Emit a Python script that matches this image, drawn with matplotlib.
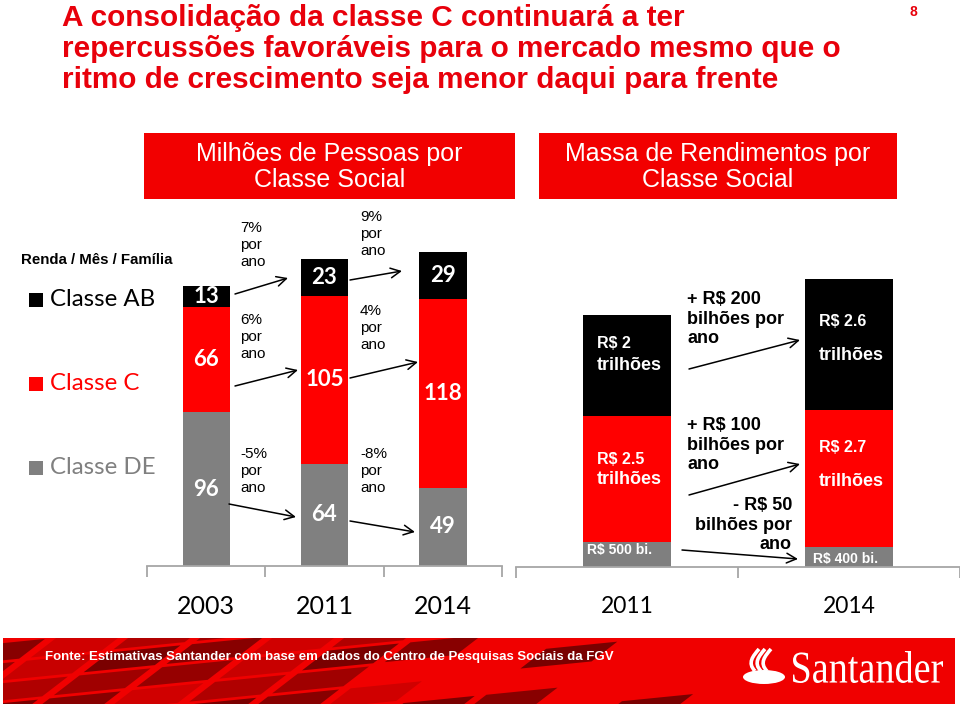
import matplotlib
matplotlib.use("Agg")
import matplotlib.pyplot as plt
import matplotlib.transforms as mtransforms
from matplotlib.patches import Rectangle, Polygon, PathPatch, Ellipse, FancyArrowPatch
from matplotlib.path import Path
from matplotlib.textpath import TextPath
from matplotlib.font_manager import FontProperties

# ---------------- data ----------------
people_years = ['2003', '2011', '2014']
people_de = [96, 64, 49]
people_c = [66, 105, 118]
people_ab = [13, 23, 29]
growth_ab = ['7%', '9%']
growth_c = ['6%', '4%']
growth_de = ['-5%', '-8%']

income_years = ['2011', '2014']
income_de = [0.5, 0.4]      # R$ trilhões
income_c = [2.5, 2.7]
income_ab = [2.0, 2.6]
income_de_labels = ['R$ 500 bi.', 'R$ 400 bi.']
income_c_labels = ['R$ 2.5', 'R$ 2.7']
income_ab_labels = ['R$ 2', 'R$ 2.6']
income_change = ['+ R$ 200', '+ R$ 100', '- R$ 50']

title_lines = ['A consolidação da classe C continuará a ter',
               'repercussões favoráveis para o mercado mesmo que o',
               'ritmo de crescimento seja menor daqui para frente']

RED = '#FF0000'
TRED = '#E8000B'
GREY = '#808080'
SANS = ['Liberation Sans', 'DejaVu Sans']
CAL = ['Lato', 'DejaVu Sans']

W, H = 960, 705
fig = plt.figure(figsize=(W / 100, H / 100), dpi=100)
fig.patch.set_facecolor('white')


def ax_rect(x0, y_top, x1, y_bot):
    return [x0 / W, 1 - y_bot / H, (x1 - x0) / W, (y_bot - y_top) / H]


# ---------------- left panel: people ----------------
axL = fig.add_axes(ax_rect(147, 200, 502, 566))
xL = list(range(len(people_years)))
bw = 0.40
axL.bar(xL, people_de, bw, color=GREY, zorder=2)
axL.bar(xL, people_c, bw, bottom=people_de, color=RED, zorder=2)
bot_ab = [a + b for a, b in zip(people_de, people_c)]
axL.bar(xL, people_ab, bw, bottom=bot_ab, color='black', zorder=2)
for i in xL:
    for val, b in ((people_de[i], 0), (people_c[i], people_de[i]), (people_ab[i], bot_ab[i])):
        axL.text(i, b + val / 2, str(val), ha='center', va='center', color='white',
                 fontsize=16, fontweight='bold', family=CAL, zorder=3)
axL.set_xlim(-0.5, 2.5)
axL.set_ylim(0, 366 / 1.6)

# ---------------- right panel: income ----------------
axR = fig.add_axes(ax_rect(516, 200, 960, 567))
xR = list(range(len(income_years)))
axR.bar(xR, income_de, bw, color='#7F7F7F', zorder=2)
axR.bar(xR, income_c, bw, bottom=income_de, color=RED, zorder=2)
bot_r = [a + b for a, b in zip(income_de, income_c)]
axR.bar(xR, income_ab, bw, bottom=bot_r, color='black', zorder=2)
axR.set_xlim(-0.5, 1.5 - 6 / 225)
axR.set_ylim(0, 367 / 50.5)

for ax, n, labels, fs in ((axL, 3, people_years, 18), (axR, 2, income_years, 16.5)):
    for s in ('top', 'right', 'left'):
        ax.spines[s].set_visible(False)
    ax.spines['bottom'].set_color('#A6A6A6')
    ax.spines['bottom'].set_linewidth(1.3)
    ax.set_yticks([])
    ax.set_xticks([k - 0.5 for k in range(n + 1)])
    ax.set_xticklabels([])
    ax.tick_params(axis='x', which='major', direction='out', length=8, width=1.3, color='#A6A6A6')
    ax.set_xticks(list(range(n)), minor=True)
    ax.set_xticklabels(labels, minor=True, fontsize=fs, family=CAL)
    ax.tick_params(axis='x', which='minor', length=0, pad=21)
    ax.patch.set_alpha(0)

# ---------------- overlay (pixel coords, y from top) ----------------
ov = fig.add_axes([0, 0, 1, 1], zorder=5)
ov.set_xlim(0, W)
ov.set_ylim(0, H)
ov.axis('off')
ov.patch.set_alpha(0)


def Y(y):
    return H - y


# title
for k, line in enumerate(title_lines):
    ov.text(62, Y(18 + 31 * k), line, color=TRED, fontsize=21.4, fontweight='bold',
            family=SANS, va='center', ha='left')
ov.text(913, Y(12), '8', color=TRED, fontsize=10, fontweight='bold', family=SANS,
        ha='center', va='center')

# header boxes
for (x0, x1, txt) in ((144, 515, 'Milhões de Pessoas por\nClasse Social'),
                      (539, 897, 'Massa de Rendimentos por\nClasse Social')):
    ov.add_patch(Rectangle((x0, Y(199)), x1 - x0, 66, fc='#F20000', ec='none'))
    ov.text((x0 + x1) / 2, Y(167), txt, color='white', fontsize=18, family=SANS,
            ha='center', va='center', linespacing=1.12)

# legend
ov.text(21, Y(260), 'Renda / Mês / Família', fontsize=10.8, fontweight='bold', family=SANS,
        va='center', ha='left')
for yc, lab, col in ((300, 'Classe AB', 'black'), (384, 'Classe C', RED), (468, 'Classe DE', GREY)):
    ov.add_patch(Rectangle((29, Y(yc + 7)), 14, 14, fc=col, ec='none'))
    ov.text(50, Y(yc - 1), lab, color=col, fontsize=17.3, family=CAL, va='center', ha='left')

# growth annotations (left panel)
pct_kw = dict(fontsize=11, family=SANS, va='center', ha='left', linespacing=1.24)
for (x, yc, lab) in ((240, 245, growth_ab[0]), (360, 234, growth_ab[1]),
                     (240, 337, growth_c[0]), (360, 328, growth_c[1]),
                     (240, 471, growth_de[0]), (360, 471, growth_de[1])):
    ov.text(x, Y(yc), lab + '\npor\nano', **pct_kw)


def arrow(x0, y0, x1, y1):
    ov.add_patch(FancyArrowPatch((x0, Y(y0)), (x1, Y(y1)), arrowstyle='->,head_length=7,head_width=3.5',
                                 lw=1.1, color='black', shrinkA=0, shrinkB=0))


arrow(235, 294, 288, 278)
arrow(235, 386, 298, 370)
arrow(229, 504, 296, 517)
arrow(350, 280, 402, 271)
arrow(350, 378, 418, 362)
arrow(350, 521, 415, 532)

# income annotations (right panel)
bold_kw = dict(fontweight='bold', family=SANS, color='black', linespacing=1.2, va='center')
ov.text(687, Y(319), income_change[0] + '\nbilhões por\nano', ha='left', fontsize=13, **bold_kw)
ov.text(687, Y(445), income_change[1] + '\nbilhões por\nano', ha='left', fontsize=13, **bold_kw)
ov.text(792, Y(525), income_change[2] + '\nbilhões por\nano', ha='right', multialignment='right',
        fontsize=13, **bold_kw)
arrow(689, 369, 800, 340)
arrow(689, 495, 800, 464)
arrow(682, 550, 798, 559)

wkw = dict(color='white', fontweight='bold', family=SANS, va='center', ha='left')
ov.text(597, Y(344), income_ab_labels[0], fontsize=11.5, **wkw)
ov.text(597, Y(365), 'trilhões', fontsize=13, **wkw)
ov.text(597, Y(459), income_c_labels[0], fontsize=11.5, **wkw)
ov.text(597, Y(480), 'trilhões', fontsize=13, **wkw)
ov.text(587, Y(550), income_de_labels[0], fontsize=10, **wkw)
ov.text(819, Y(321), income_ab_labels[1], fontsize=11.5, **wkw)
ov.text(819, Y(356), 'trilhões', fontsize=13, **wkw)
ov.text(819, Y(447), income_c_labels[1], fontsize=11.5, **wkw)
ov.text(819, Y(482), 'trilhões', fontsize=13, **wkw)
ov.text(813, Y(559), income_de_labels[1], fontsize=10, **wkw)

# ---------------- footer banner ----------------
banner = Rectangle((3, Y(704)), 952, 66, fc='#F00000', ec='none', zorder=1)
ov.add_patch(banner)
shades = ['#7A0000', '#960000', '#B00000', '#880000', '#C80000', '#A00000', '#D00000']

SLOPE_A = 0.1
SLOPE_B = 1.3


def corner(c, d):
    x = (d + SLOPE_B * (705 - c)) / (1 - SLOPE_B * SLOPE_A)
    return x, c - SLOPE_A * x


row_c = list(range(642, 790, 20))
col_d = list(range(-180, 760, 72))
for i in range(len(row_c) - 1):
    for j in range(len(col_d) - 1):
        pts = [corner(row_c[i], col_d[j]), corner(row_c[i], col_d[j + 1]),
               corner(row_c[i + 1], col_d[j + 1]), corner(row_c[i + 1], col_d[j])]
        cx = sum(p[0] for p in pts) / 4
        k = (i * 5 + j * 3) % 7
        if cx > 740 or cx < -40:
            continue
        if cx > 400 and k not in (0, 3):
            continue
        if cx > 600 and k != 0:
            continue
        cy = sum(p[1] for p in pts) / 4
        shrink = 0.86
        sp = [(cx + (x - cx) * shrink, cy + (y - cy) * shrink) for x, y in pts]
        poly = Polygon([(x, Y(y)) for x, y in sp], closed=True, fc=shades[k], ec='none', zorder=1.5)
        ov.add_patch(poly)
        poly.set_clip_path(banner)
ov.text(45, Y(657), 'Fonte: Estimativas Santander com base em dados do Centro de Pesquisas Sociais da FGV',
        color='white', fontsize=9.5, fontweight='bold', family=SANS, va='center', ha='left', zorder=3)

# Santander logo
ov.add_patch(Ellipse((764, Y(677)), 42, 14, fc='white', ec='none', zorder=3))
for dx in (-5, 1, 7):
    verts = [(760 + dx, Y(671)), (752 + dx, Y(663)), (758 + dx, Y(656)), (764 + dx, Y(649))]
    ov.add_patch(PathPatch(Path(verts, [Path.MOVETO, Path.CURVE4, Path.CURVE4, Path.CURVE4]),
                           fc='none', ec='white', lw=2.6, zorder=3))
tp = TextPath((0, 0), 'Santander', size=40, prop=FontProperties(family='Liberation Serif'))
bb = tp.get_extents()
tr = mtransforms.Affine2D().translate(-bb.x0, -bb.y0).scale(150 / bb.width, 32 / bb.height).translate(793, Y(683))
ov.add_patch(PathPatch(tr.transform_path(tp), fc='white', ec='none', zorder=3))

fig.savefig('out.png', dpi=100, facecolor='white')
